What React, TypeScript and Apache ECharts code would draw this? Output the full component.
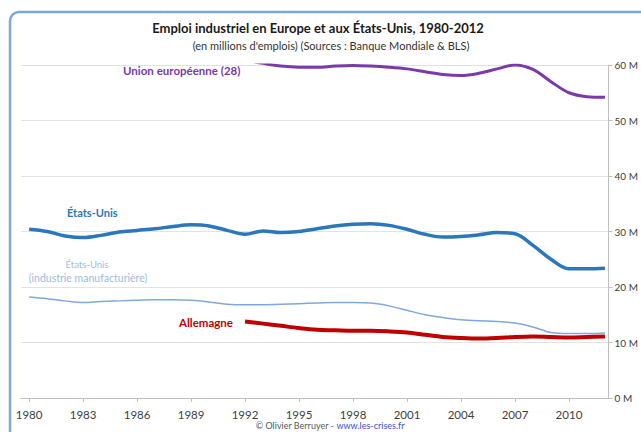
import React, { useEffect, useRef } from "react";
import * as echarts from "echarts";

const years = [1980, 1981, 1982, 1983, 1984, 1985, 1986, 1987, 1988, 1989, 1990, 1991, 1992, 1993, 1994, 1995, 1996, 1997, 1998, 1999, 2000, 2001, 2002, 2003, 2004, 2005, 2006, 2007, 2008, 2009, 2010, 2011, 2012];
const xTickYears = [1980, 1983, 1986, 1989, 1992, 1995, 1998, 2001, 2004, 2007, 2010];

const usTotal = [30.4, 30.0, 29.2, 28.9, 29.3, 29.9, 30.2, 30.5, 30.9, 31.2, 31.0, 30.2, 29.5, 30.1, 29.8, 30.0, 30.5, 31.0, 31.3, 31.4, 31.1, 30.4, 29.5, 29.0, 29.1, 29.4, 29.8, 29.6, 27.5, 25.0, 23.3, 23.3, 23.4];
const usManufacturing = [18.2, 17.9, 17.5, 17.2, 17.4, 17.5, 17.6, 17.7, 17.7, 17.6, 17.3, 16.9, 16.8, 16.8, 16.9, 17.0, 17.1, 17.2, 17.2, 17.1, 16.6, 15.8, 15.0, 14.5, 14.1, 13.9, 13.8, 13.5, 12.8, 11.8, 11.6, 11.6, 11.7];
// from 1992
const euYears = [1992, 1993, 1994, 1995, 1996, 1997, 1998, 1999, 2000, 2001, 2002, 2003, 2004, 2005, 2006, 2007, 2008, 2009, 2010, 2011, 2012];
const eu28 = [60.9, 60.3, 59.8, 59.6, 59.6, 59.8, 59.9, 59.8, 59.6, 59.3, 58.8, 58.3, 58.1, 58.5, 59.3, 60.0, 59.2, 57.0, 55.0, 54.3, 54.2];
const germany = [13.8, 13.4, 13.0, 12.6, 12.3, 12.2, 12.1, 12.1, 12.0, 11.8, 11.4, 11.0, 10.8, 10.7, 10.8, 11.0, 11.1, 11.0, 10.9, 11.0, 11.1];

const yTicks = [0, 10, 20, 30, 40, 50, 60];

const FONT = "Lato, 'Open Sans', sans-serif";

export default function App() {
  const ref = useRef<HTMLDivElement>(null);
  useEffect(() => {
    document.body.style.margin = "0";
    const chart = echarts.init(ref.current!, null, { renderer: "svg" });
    const zip = (xs: number[], ys: number[]) => xs.map((x, i) => [x, ys[i]]);
    chart.setOption({
      animation: false,
      backgroundColor: "#ffffff",
      textStyle: { fontFamily: FONT },
      grid: { left: 21, right: 29, top: 65, bottom: 34 },
      xAxis: {
        type: "value",
        min: 1979.55,
        max: 2012.2,
        axisLine: { show: true, lineStyle: { color: "#bfbfbf" } },
        axisTick: { show: true, length: 4, customValues: xTickYears, lineStyle: { color: "#bfbfbf" } },
        axisLabel: { customValues: xTickYears, color: "#404040", fontSize: 11.5, fontFamily: FONT, margin: 10, formatter: (v: number) => String(v) },
        splitLine: { show: false },
      },
      yAxis: {
        type: "value",
        position: "right",
        min: 0,
        max: 60,
        interval: 10,
        axisLine: { show: true, lineStyle: { color: "#bfbfbf" } },
        axisTick: { show: true, length: 4, lineStyle: { color: "#bfbfbf" } },
        axisLabel: { color: "#404040", fontSize: 10, fontFamily: FONT, margin: 6, formatter: (v: number) => (yTicks.includes(v) ? `${v} M` : "") },
        splitLine: { show: true, lineStyle: { color: "#e3e3e3", width: 1 } },
      },
      series: [
        { name: "États-Unis (industrie manufacturière)", type: "line", smooth: 0.35, symbol: "none", data: zip(years, usManufacturing), lineStyle: { color: "#7fa8dc", width: 1.5 } },
        { name: "États-Unis", type: "line", smooth: 0.35, symbol: "none", data: zip(years, usTotal), lineStyle: { color: "#2a78bb", width: 3.5 } },
        { name: "Union européenne (28)", type: "line", smooth: 0.35, symbol: "none", data: zip(euYears, eu28), lineStyle: { color: "#7a3aab", width: 3 } },
        { name: "Allemagne", type: "line", smooth: 0.35, symbol: "none", data: zip(euYears, germany), lineStyle: { color: "#c00000", width: 4 } },
      ],
      graphic: [
        { type: "rect", shape: { x: 10, y: 12, width: 660, height: 440, r: 9 }, style: { fill: "none", stroke: "#7ea6d8", lineWidth: 2.5 }, z: 100 },
        { type: "text", x: 318, y: 28, style: { text: "Emploi industriel en Europe et aux États-Unis, 1980-2012", fontFamily: FONT, fontWeight: "bold", fontSize: 13, fill: "#1a1a1a", align: "center", verticalAlign: "middle" } },
        { type: "text", x: 331, y: 45, style: { text: "(en millions d'emplois) (Sources : Banque Mondiale & BLS)", fontFamily: FONT, fontSize: 11, fill: "#333333", align: "center", verticalAlign: "middle" } },
        { type: "text", x: 123, y: 70, style: { text: "Union européenne (28)", fontFamily: FONT, fontWeight: "bold", fontSize: 11.5, fill: "#7a3aab", align: "left", verticalAlign: "middle" } },
        { type: "text", x: 67, y: 212, style: { text: "États-Unis", fontFamily: FONT, fontWeight: "bold", fontSize: 11, fill: "#2a78bb", align: "left", verticalAlign: "middle" } },
        { type: "text", x: 87, y: 264, style: { text: "États-Unis", fontFamily: FONT, fontSize: 9.5, fill: "#9dbbe0", align: "center", verticalAlign: "middle" } },
        { type: "text", x: 88, y: 278, style: { text: "(industrie manufacturière)", fontFamily: FONT, fontSize: 10.5, fill: "#9dbbe0", align: "center", verticalAlign: "middle" } },
        { type: "text", x: 179, y: 322, style: { text: "Allemagne", fontFamily: FONT, fontWeight: "bold", fontSize: 11.5, fill: "#c00000", align: "left", verticalAlign: "middle" } },
        {
          type: "text", x: 330, y: 421,
          style: {
            text: "{a|© Olivier Berruyer - }{b|www.les-crises.fr}",
            align: "center", verticalAlign: "top",
            rich: { a: { fontFamily: FONT, fontSize: 9, fill: "#595959" }, b: { fontFamily: FONT, fontSize: 9, fill: "#3355cc" } },
          },
        },
      ],
    });
    return () => chart.dispose();
  }, []);
  return <div ref={ref} style={{ position: "fixed", left: 0, top: 0, width: 641, height: 432 }} />;
}
